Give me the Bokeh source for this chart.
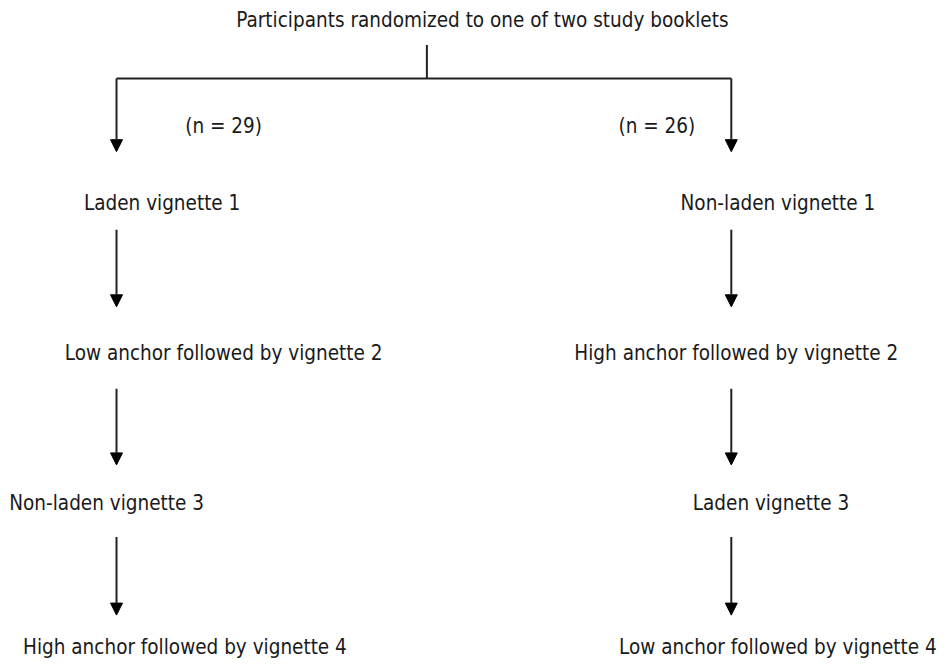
from bokeh.plotting import figure
from bokeh.models import Range1d, Arrow, NormalHead, ColumnDataSource
from bokeh.core.properties import value
from bokeh.embed import file_html
from bokeh.resources import INLINE

# Flowchart content
title_text = "Participants randomized to one of two study booklets"
n_labels = ["(n = 29)", "(n = 26)"]
left_steps = ["Laden vignette 1", "Low anchor followed by vignette 2",
              "Non-laden vignette 3", "High anchor followed by vignette 4"]
right_steps = ["Non-laden vignette 1", "High anchor followed by vignette 2",
               "Laden vignette 3", "Low anchor followed by vignette 4"]

# layout (pixel-like coordinates of the reference image)
left_x = [163, 225, 107, 186]
right_x = [784, 742, 777, 784]
step_y = [205, 357, 509, 654]
branch_x = [117, 737]
arrow_y0 = [232, 393, 543]
arrow_y1 = [310, 470, 622]

FONT = "DejaVu Sans Condensed, Liberation Sans Narrow, Roboto Condensed, sans-serif"
FS = "20.5px"

p = figure(width=942, height=664, x_range=Range1d(0, 950), y_range=Range1d(672, 0),
           output_backend="svg", toolbar_location=None, min_border=0)
p.axis.visible = False
p.grid.visible = False
p.outline_line_color = None
p.background_fill_color = "white"

def txt(xs, ys, labels):
    src = ColumnDataSource(dict(x=xs, y=ys, t=labels))
    p.text("x", "y", text="t", source=src, text_align="center", text_baseline="middle",
           text_font=value(FONT), text_font_size=FS, text_color="#1a1a1a")

txt([486], [20], [title_text])
txt([225, 662], [127, 127], n_labels)
txt(left_x, step_y, left_steps)
txt(right_x, step_y, right_steps)

# connector from title
p.segment(x0=[430], y0=[45], x1=[430], y1=[79], line_color="#222222", line_width=2)
p.segment(x0=[branch_x[0]], y0=[79], x1=[branch_x[1]], y1=[79], line_color="#222222", line_width=2)

def arrow(x, y0, y1):
    p.add_layout(Arrow(end=NormalHead(size=12, fill_color="black", line_color="black"),
                       x_start=x, y_start=y0, x_end=x, y_end=y1,
                       line_color="#222222", line_width=2))

for bx in branch_x:
    arrow(bx, 79, 153)
    for a0, a1 in zip(arrow_y0, arrow_y1):
        arrow(bx, a0, a1)

open("out.html", "w").write(file_html(p, INLINE))
